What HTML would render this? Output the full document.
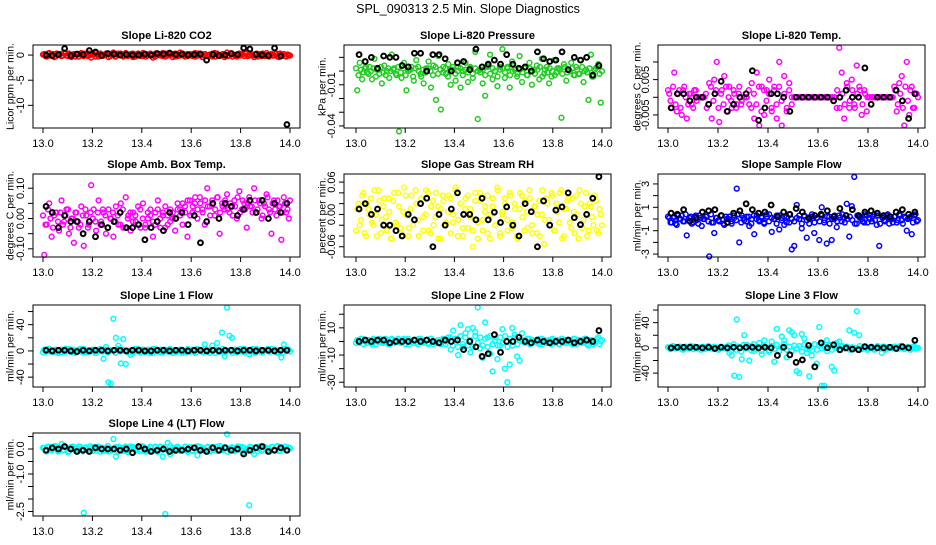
<!DOCTYPE html>
<html><head><meta charset="utf-8"><style>
html,body{margin:0;padding:0;background:#fff}
svg text{font-family:"Liberation Sans",Arial,sans-serif}
</style></head><body>
<svg id="chart" width="936" height="540" viewBox="0 0 936 540" xmlns="http://www.w3.org/2000/svg">
<rect width="936" height="540" fill="#fff"/>
<text x="468" y="13" font-size="12.5" text-anchor="middle">SPL_090313  2.5 Min. Slope Diagnostics</text>
</svg>
<script>
const xTicks=[13.0,13.2,13.4,13.6,13.8,14.0];
const xTickLabels=["13.0","13.2","13.4","13.6","13.8","14.0"];
const panelTitles=["Slope Li-820 CO2","Slope Li-820 Pressure","Slope Li-820 Temp.","Slope Amb. Box Temp.","Slope Gas Stream RH","Slope Sample Flow","Slope Line 1 Flow","Slope Line 2 Flow","Slope Line 3 Flow","Slope Line 4 (LT) Flow"];
const yTitles=["Licor ppm per min.","kPa per min.","degrees C per min.","degrees C per min.","percent per min.","ml/min per min.","ml/min per min.","ml/min per min.","ml/min per min.","ml/min per min."];
const seriesColors=["#ff0000","#22cc22","#ff00ff","#ff00ff","#ffff00","#0000ff","#00ffff","#00ffff","#00ffff","#00ffff"];
const yTickVals=[[0,-5,-10],[0.01,0,-0.01,-0.02,-0.03,-0.04],[0.01,0.005,0,-0.005],[0.1,0.05,0,-0.05,-0.1],[0.06,0.04,0.02,0,-0.02,-0.04,-0.06],[3,2,1,0,-1,-2,-3],[60,40,20,0,-20,-40],[20,10,0,-10,-20,-30],[60,40,20,0,-20,-40],[0.5,0,-0.5,-1,-1.5,-2,-2.5]];
const yTickLabels=[["0","-5","-10"],["","","-0.01","","","-0.04"],["","0.005","","-0.005"],["0.10","","0.00","","-0.10"],["0.06","","","0.00","","","-0.06"],["3","","1","","-1","","-3"],["","40","","0","","-40"],["","10","","-10","","-30"],["","40","","0","","-40"],["","0.0","","-1.0","","","-2.5"]];
const yDomains=[[2,-14.5],[0.019,-0.0415],[0.0148,-0.0087],[0.147,-0.127],[0.075,-0.079],[3.85,-3.25],[70,-55],[26.8,-33.5],[68,-62],[0.64,-2.68]];

const colored0=[0.2,-0.3,0.4,0.1,-0.4,0.3,0,-0.2,0.5,-0.1,0.3,-0.4,0.2,0.1,-0.3,0.4,-0.2,0,0.3,-0.5,0.1,0.4,-0.3,0.2,-0.1,0.3,-0.4,0.2,0.5,-0.2,0,0.3,-0.3,0.4,-0.1,0.2,-0.4,0.1,0.3,-0.2,0.4,-0.3,0.1,0.2,-0.5,0.3,0,-0.1,0.4,-0.3,0.2,0.1,-0.4,0.3,-0.2,0.5,0,-0.3,0.2,0.1,-0.2,0.4,-0.1,0.3,-0.4,0.2,0,0.1,-0.3,0.4,0.3,-0.2,0.1,-0.4,0.5,-0.1,0.2,0,-0.3,0.3,0.1,-0.2,0.4,-0.1,0.2,-0.4,0.3,0,-0.2,0.1,0.4,-0.3,0.2,-0.1,0.3,-0.4,0.1,0.2,-0.3,0];
const band0=[0.1,-0.2,0.3,-0.1,0.2,-0.3,0,0.2,-0.1,0.3,-0.2,0.1,0,-0.3,0.2,0.1,-0.1,0.3,-0.2,0,0.2,-0.3,0.1,0.3,-0.1,0,0.2,-0.2,0.1,-0.3,0.3,0,-0.1,0.2,-0.2,0.1,0.3,-0.3,0,0.1,-0.2,0.2,-0.1,0.3,0,-0.3,0.1,0.2,-0.2,0.3,-0.1,0,0.2,-0.3,0.1,-0.1,0.3,0,-0.2,0.2,0.1,-0.3,0.3,-0.1,0,0.2,-0.2,0.1,0.3,-0.3,0,-0.1,0.2,0.1,-0.2,0.3,-0.3,0,0.1,-0.1,0.2,0.3,-0.2,0,-0.1,0.1,-0.3,0.2,0.3,-0.2,0,0.1,-0.1,0.2,-0.3,0.3,0,-0.2,0.1,-0.1];
const black0=[0,-0.1,0.1,1.3,-0.1,0.2,0.1,0.9,0.6,-0.1,0.3,0.2,0,0.1,0,0,0.2,0,0.3,0.2,0.4,0.1,0.2,0,0.1,0.2,-1.0,0.1,-0.1,0,0.3,0.1,1.4,1.2,0.1,0,-0.1,1.4,-0.2,-13.8];
const colored1=[-0.014,0.006,-0.006,0.002,-0.001,0.003,-0.006,0.009,0.001,-0.002,-0.009,0.004,0,-0.005,0.012,0.002,-0.003,-0.044,-0.005,0.006,-0.014,0.001,0.003,-0.007,0.008,0,-0.004,-0.009,0.002,0.007,-0.012,0.004,-0.021,0.011,-0.028,0.003,-0.002,0.005,-0.01,0.001,-0.007,0.003,-0.012,0,0.006,-0.008,0.002,-0.005,0.014,-0.035,0.001,-0.009,-0.018,0.004,0.012,-0.006,0,-0.011,0.003,0.016,-0.005,0.002,-0.012,0.007,0.001,-0.004,0.011,-0.008,0.002,-0.003,0.006,-0.01,0.001,0.004,-0.006,0.009,-0.002,0.003,-0.009,-0.004,0.008,-0.001,0.002,-0.034,0.005,-0.007,0.001,0.006,-0.003,0.003,-0.002,0.008,-0.008,0.001,-0.021,0.012,-0.004,0.002,0.005,-0.023];
const band1=[0.002,-0.003,0.001,-0.001,0.003,-0.002,0,0.002,-0.004,0.001,0.003,-0.001,-0.003,0.002,0,0.001,-0.002,0.003,-0.001,0.002,-0.003,0,0.001,-0.004,0.002,0.003,-0.002,0.001,-0.001,0.002,0,-0.003,0.003,-0.002,0.001,-0.001,0.002,-0.004,0.001,0.003,-0.002,0,0.002,-0.003,0.001,-0.001,0.003,-0.002,0.002,0,-0.001,0.001,-0.003,0.003,-0.002,0.002,0,-0.004,0.001,0.002,-0.001,0.003,-0.003,0,0.002,-0.002,0.001,-0.001,0.003,-0.003,0.002,0,-0.002,0.001,0.003,-0.004,0.001,-0.001,0.002,0,-0.003,0.002,0.001,-0.002,0.003,-0.001,0,0.002,-0.003,0.001,-0.002,0.003,0,-0.001,0.002,-0.004,0.001,0.003,-0.002,0];
const black1=[0.012,0.007,0.010,0.002,0.011,0.010,0.010,0.004,0.003,0.013,0.013,0.0,0.012,0.012,0.009,0.0,0.006,0.007,0.001,0.016,0.003,0.005,0.008,0.005,0.012,0.005,0.002,0.003,0.0,0.014,0.009,0.007,0.008,0.014,0.001,0.010,0.008,0.010,-0.003,0.004];
const colored2=[0.001,-0.003,0.007,-0.004,0.002,-0.005,0.003,-0.006,0.001,-0.002,0.002,-0.001,0,0,0,-0.003,0.004,-0.006,0.005,0.01,-0.007,0.002,0.006,-0.004,0.003,-0.003,0.001,-0.002,0.003,-0.001,0,0,-0.002,0.004,-0.006,0.007,-0.008,0.003,-0.005,0.002,0.005,-0.004,0.003,-0.006,0.01,-0.008,0.006,-0.003,0.004,-0.002,0,0,0,0,0,0,0,0,0,0,0,0,0,0,0,0,0,-0.003,0.014,0.007,-0.006,0.004,-0.003,0.005,-0.002,0.009,0.003,-0.005,0.002,-0.004,0,0,0,0,0,0,0,0,0,0,0.003,-0.004,0.004,0.006,-0.008,0.01,-0.005,0.003,-0.003,0.001];
const band2=[0.002,-0.001,0.003,-0.002,0.001,-0.003,0.002,0,-0.002,0.001,-0.003,0.002,0,0,0,0.001,-0.002,0.003,-0.001,0.002,-0.003,0.001,-0.002,0.003,0,-0.001,0.002,-0.003,0.001,-0.002,0,0,0.002,-0.003,0.001,-0.002,0.003,-0.004,0.002,-0.001,0.001,-0.003,0.002,-0.002,0.003,-0.001,0.001,-0.004,0.002,0,0,0,0,0,0,0,0,0,0,0,0,0,0,0,0,0,0,0.002,-0.003,0.001,-0.002,0.003,-0.001,0.002,-0.003,0.001,0.002,-0.002,0.001,0,0,0,0,0,0,0,0,0,0,0,0.002,-0.002,0.001,-0.003,0.003,-0.001,0.002,-0.003,0.001,0];
const black2=[-0.003,0.001,0.001,-0.001,0,0,-0.002,0.001,0.0045,-0.004,-0.002,0,0.001,0.0075,-0.0065,-0.003,0.001,0.001,0,-0.004,0,0,0,0,0,0,-0.001,0,0.002,0,0,0.0083,-0.002,0,0,0,0.002,-0.001,-0.006,0.001];
const colored3=[-0.12,-0.02,0.05,-0.06,0.01,0.02,-0.04,0.06,-0.01,0.03,-0.05,0.0,-0.08,0.02,-0.03,0.04,-0.09,0.01,-0.02,0.11,0.03,-0.04,0.06,-0.01,0.02,-0.05,0.03,0.0,-0.06,0.04,-0.02,0.05,-0.03,0.07,0.01,-0.04,0.02,-0.01,0.04,-0.03,0.05,-0.02,0.0,0.03,-0.06,0.02,0.06,-0.03,0.01,0.04,-0.02,0.03,0.0,-0.04,0.05,0.01,-0.02,0.04,-0.06,0.06,0.02,0.05,0.0,0.07,0.03,-0.02,0.1,0.04,0.06,0.01,0.07,-0.05,0.05,0.03,0.08,0.02,0.04,0.06,0.0,0.09,0.03,0.05,-0.03,0.07,0.04,0.1,0.02,0.06,0.0,0.05,0.08,0.03,-0.05,0.06,0.01,0.04,-0.07,0.07,0.02,0.0];
const band3=[0.01,-0.02,0.03,0,-0.03,0.02,-0.01,0.02,-0.02,0.01,0.03,-0.03,0,0.02,-0.01,-0.02,0.01,0.03,-0.03,0.02,0,-0.01,0.02,-0.02,0.03,0.01,-0.03,0,0.02,-0.01,0.01,-0.02,0.03,-0.03,0,0.02,-0.01,0.01,-0.02,0.03,0,-0.03,0.02,0.01,-0.01,-0.02,0.03,0,0.02,-0.03,0.01,-0.01,0.02,0,0.03,0.03,0.05,0.02,0.06,0.01,0.04,0.07,0.03,0.05,0.02,0.06,0.04,0.01,0.05,0.03,0.07,0.02,0.04,0.06,0.03,0.05,0.01,0.04,0.07,0.02,0.06,0.03,0.05,0.04,0.02,0.06,0.03,0.05,0.01,0.04,0.07,0.02,0.05,0.03,0.06,0.04,0.02,0.05,0.03,0.06];
const black3=[0.04,0.02,-0.03,0.01,-0.01,-0.01,-0.05,-0.01,-0.06,-0.02,-0.03,-0.01,0.02,-0.03,-0.03,-0.02,-0.07,-0.03,-0.01,-0.04,0.02,0.0,0.02,-0.02,0.01,-0.08,-0.01,0.05,0.0,0.05,0.04,0.01,0.03,0.06,0.02,0.06,0.0,0.05,0.02,0.05];
const colored4=[0.01,-0.02,0.035,-0.035,0.02,0.0,-0.015,0.045,-0.04,0.025,-0.01,0.03,-0.03,0.005,-0.045,0.04,-0.02,0.015,-0.035,0.05,0.0,-0.025,0.035,-0.01,0.02,-0.04,0.03,-0.005,0.045,-0.03,0.015,-0.02,0.04,-0.045,0.01,0.025,-0.015,0.035,-0.035,0.0,0.05,-0.01,0.02,-0.04,0.03,-0.025,0.01,-0.06,0.04,-0.015,0.025,-0.03,0.005,0.035,-0.045,0.015,-0.02,0.05,-0.035,0.0,0.03,-0.01,0.04,-0.025,0.02,-0.04,0.01,0.035,-0.03,0.005,0.045,-0.02,0.015,-0.035,0.025,0.0,-0.055,0.03,-0.01,0.04,-0.03,0.02,-0.015,0.045,-0.04,0.01,0.03,-0.025,0.005,0.035,-0.045,0.02,-0.01,0.04,-0.03,0.015,-0.02,0.025,-0.035,0.0];
const band4=[-0.03,0.02,-0.01,0.04,-0.04,0.01,0.03,-0.02,0.0,0.045,-0.035,0.015,-0.005,0.03,-0.045,0.025,-0.015,0.04,-0.025,0.005,0.035,-0.04,0.01,-0.02,0.045,-0.01,0.02,-0.03,0.0,0.04,-0.035,0.025,-0.005,0.015,-0.045,0.035,-0.02,0.005,0.03,-0.015,0.045,-0.04,0.02,-0.025,0.01,0.035,-0.005,-0.03,0.025,-0.045,0.04,-0.01,0.015,-0.035,0.0,0.03,-0.02,0.045,-0.04,0.005,0.02,-0.03,0.035,-0.015,0.01,-0.045,0.04,-0.005,0.025,-0.025,0.03,-0.035,0.015,0.0,-0.04,0.045,-0.01,0.02,-0.02,0.035,-0.03,0.005,0.04,-0.045,0.01,0.025,-0.015,0.03,-0.035,0.0,0.045,-0.025,0.015,-0.04,0.02,-0.005,0.035,-0.03,0.01,-0.02];
const black4=[0.01,0.02,0.0,0.01,-0.02,-0.02,-0.03,-0.04,0.0,-0.01,0.02,0.03,-0.06,0.0,-0.02,0.01,0.04,0.0,0.0,-0.01,0.03,-0.01,0.004,-0.015,0.014,-0.02,-0.04,0.02,0.005,-0.06,0.025,-0.02,0.008,0.014,0.04,-0.006,-0.019,0.0,0.03,0.07];
const colored5=[0.1,-0.3,0.2,-0.5,0.0,0.3,-0.2,-1.4,0.1,-0.4,0.2,-0.1,0.3,-0.6,0.0,0.2,-3.2,-0.3,-1.2,0.1,-0.2,0.3,-0.5,0.0,0.2,-0.4,0.1,2.6,-2.0,0.3,-0.1,0.2,-0.6,0.0,-1.3,0.3,-0.2,0.1,-0.4,0.2,0.4,-1.1,0.0,0.3,-0.9,0.1,-0.5,0.2,-0.3,-2.6,-2.3,1.2,0.0,-0.8,0.3,-1.6,-0.4,0.2,-1.2,0.1,-1.8,1.0,-0.3,-2.1,0.2,-1.8,0.0,-0.7,0.3,-0.2,0.1,1.3,-1.5,1.1,3.6,-0.4,0.2,0.0,-0.3,0.3,0.1,-0.2,0.4,-0.5,-2.3,0.2,-0.1,0.3,-0.4,0.0,0.2,-0.3,0.4,-0.1,0.2,-1.0,0.1,-1.3,0.3,-0.2];
const band5=[0.2,-0.3,0.1,-0.4,0.3,0,-0.2,0.4,-0.1,0.2,-0.3,0.3,-0.4,0.1,0,0.2,-0.2,0.4,-0.3,0.1,-0.1,0.3,-0.4,0.2,0,-0.2,0.3,-0.1,0.4,-0.3,0.1,-0.2,0.2,-0.4,0.3,0,-0.1,0.2,-0.3,0.4,-0.2,0.1,0,-0.4,0.3,-0.1,0.2,-0.3,0.4,0,-0.2,0.1,0.3,-0.4,0.2,-0.1,0,0.4,-0.3,0.1,-0.2,0.3,-0.1,0.2,-0.4,0,0.3,-0.2,0.1,0.4,-0.3,0,0.2,-0.1,-0.4,0.3,0.1,-0.2,0.4,-0.3,0,0.2,-0.1,0.3,-0.4,0.1,-0.2,0.4,0,-0.3,0.2,-0.1,0.3,-0.4,0.1,0,0.2,-0.3,0.4,-0.1];
const black5=[0.5,0.4,0.8,-0.2,0.1,0.6,0.7,0.8,0.3,-0.3,0.5,0.7,1.3,0.8,0.5,0.6,1.2,0.2,0.6,0.4,0.9,0.6,0.1,0.3,0.4,0.7,0.2,0.9,0.3,0.8,0.3,0.6,0.7,0.5,0.3,0.2,0.6,0.8,0.4,0.6];
const colored6=[2,-1,3,0,-2,1,-3,2,0,-1,3,-2,1,0,2,-1,3,-2,0,1,2,-3,1,0,-12,6,-48,-50,49,20,8,-19,18,-20,-1,-6,2,0,3,-2,1,-1,2,0,-3,3,1,-2,0,2,-1,3,0,-2,1,2,-3,0,1,-1,2,-2,3,0,-1,10,1,-3,8,2,12,-1,28,-8,66,23,20,0,-2,1,-1,3,0,-5,2,-1,3,1,-2,0,2,-1,3,0,-2,1,-10,10,0,2];
const band6=[-2,1,3,-1,0,2,-3,1,-2,3,0,-1,2,-3,1,3,-2,0,1,-1,2,-3,0,3,-1,2,-2,1,0,-3,3,-1,2,0,-2,1,-3,3,-1,0,2,-2,1,-3,3,0,-1,2,-2,1,0,3,-3,1,-1,2,0,-2,3,-1,1,-3,2,0,-2,3,-1,1,0,-3,2,-1,3,-2,0,1,-3,2,-1,3,0,-2,1,-1,3,-3,2,0,-2,1,3,-1,0,2,-3,1,-2,3,0,-1];
const black6=[1,0,1,1,0,-1,1,0,1,1,0,1,1,0,1,1,0,0,1,1,0,1,1,0,1,1,0,1,0,1,1,0,1,1,0,1,1,0,1,1];
const colored7=[1,-1,2,0,-1,1,-2,1,0,2,-1,1,0,-2,2,-1,1,0,-1,2,1,-2,0,1,-1,2,0,-1,1,-2,2,0,-1,1,-2,1,0,3,-6,8,2,-10,12,-4,6,9,-8,10,7,25,-5,-12,14,3,-9,-22,0,-13,-3,9,-20,-30,-17,10,5,-11,-14,6,1,0,2,-1,0,1,-2,2,0,-1,1,-2,1,0,-2,2,-1,1,0,-1,2,-2,1,-1,0,2,-3,1,-2,0,3,0];
const band7=[-1,1,2,-2,0,1,-1,2,-2,1,0,-1,2,-2,1,-1,0,2,-1,1,-2,2,0,-1,1,-2,2,0,1,-1,2,-2,0,1,-1,2,-2,1,3,-3,2,-4,4,-2,3,-3,1,-4,4,-1,3,-3,2,-4,4,-2,1,-3,3,-1,4,-4,2,-3,3,-2,1,0,-1,2,-2,1,0,-1,2,-2,1,-1,0,2,-1,1,-2,2,0,-1,1,-2,2,0,1,-1,2,-2,0,1,-1,2,-2,1];
const black7=[0,1,0,1,1,-1,0,0,0,1,0,1,0,-1,1,0,1,-6,0,-4,-11,-9,5,-8,0,0,3,0,-1,1,0,-1,0,0,1,-1,0,1,0,8];
const colored8=[0,-1,1,0,2,-2,1,0,-1,1,2,-1,0,1,-2,1,0,-1,2,0,-1,1,0,2,-8,-12,-44,45,-46,-18,20,5,-20,3,-5,2,8,-10,12,1,-4,10,-22,30,-5,18,12,-15,28,25,20,-37,-40,22,15,-8,-45,-12,-30,-25,33,-60,-60,12,5,-30,-36,8,10,2,0,1,28,-1,24,58,20,-2,1,0,-1,2,-3,1,0,-8,2,-1,1,0,2,-1,0,1,-2,1,0,-1,2,0];
const band8=[1,-2,3,-1,0,2,-3,2,-1,3,-2,0,1,-3,2,-1,3,0,-2,1,-3,2,0,-1,4,-5,6,-3,2,-6,5,-1,3,-4,6,-2,1,-5,4,0,-6,3,-2,5,-4,1,6,-3,2,-5,4,-1,3,-6,5,-2,0,-4,6,-3,5,-1,2,-5,4,-3,1,0,-2,3,-1,2,-3,1,0,-2,3,-1,2,-3,1,0,-2,3,-1,2,-3,1,0,-1,2,-2,3,-1,0,1,-3,2,-1,0];
const black8=[0,1,1,1,1,0,1,-1,1,0,1,0,1,1,0,1,0,-12,1,-11,-23,-19,4,-30,8,0,5,-3,0,-2,-3,2,1,0,0,1,-1,2,0,12];
const colored9=[0.05,-0.1,0.08,-0.05,0.1,0.0,-0.08,0.2,-0.05,0.06,-0.1,0.08,0.0,-0.06,0.1,-0.04,-2.55,0.07,-0.09,0.03,0.08,-0.06,0.1,0.02,-0.07,0.05,-0.1,0.0,0.4,-0.3,0.1,0.05,-0.08,0.06,-0.05,0.1,0.0,-0.06,0.08,-0.03,0.06,-0.1,0.03,0.08,-0.05,0.1,-0.02,0.07,-0.3,-2.6,0.25,-0.2,0.06,-0.08,0.1,0.0,-0.06,0.08,-0.04,0.07,-0.09,0.05,-0.25,0.1,0.0,-0.07,0.06,-0.03,0.08,-0.05,0.1,-0.06,0.0,0.08,0.6,-0.04,0.07,-0.08,0.05,0.1,-0.05,0.03,-0.1,-2.25,0.06,-0.2,0.08,0.0,-0.07,0.1,0.04,-0.06,0.08,-0.03,0.1,-0.08,0.05,0.0,-0.05,0.06];
const band9=[0.05,-0.08,0.1,-0.03,0.0,0.12,-0.1,0.06,-0.05,0.08,-0.12,0.03,0.1,-0.06,0.0,0.09,-0.09,0.04,-0.02,0.11,-0.07,0.02,0.08,-0.11,0.05,-0.04,0.12,-0.08,0.0,0.07,-0.1,0.06,-0.03,0.1,-0.12,0.04,0.08,-0.05,0.02,-0.09,0.11,-0.06,0.0,0.09,-0.08,0.05,-0.11,0.1,-0.02,0.07,-0.04,0.12,-0.1,0.03,0.06,-0.07,0.0,0.1,-0.12,0.08,-0.05,0.02,0.11,-0.09,0.04,-0.03,0.09,-0.1,0.06,0.0,-0.08,0.12,-0.04,0.07,-0.11,0.03,0.05,-0.06,0.1,-0.02,0.08,-0.12,0.01,0.09,-0.07,0.04,-0.09,0.11,-0.03,0.06,0.0,-0.1,0.07,-0.05,0.12,-0.08,0.02,0.1,-0.06,0.03];
const black9=[-0.05,0.05,0.0,0.1,0.0,-0.1,-0.05,-0.1,0.05,0.0,0.0,0.0,-0.05,0.0,-0.15,0.1,0.0,-0.1,-0.05,0.0,-0.1,-0.05,-0.05,0.0,0.05,-0.05,-0.1,0.05,-0.05,0.05,-0.05,0.0,-0.2,-0.05,0.05,0.1,-0.1,-0.05,0.05,-0.05];
const coloredSeries=[colored0,colored1,colored2,colored3,colored4,colored5,colored6,colored7,colored8,colored9];
const bandSeries=[band0,band1,band2,band3,band4,band5,band6,band7,band8,band9];
const blackSeries=[black0,black1,black2,black3,black4,black5,black6,black7,black8,black9];

const NS="http://www.w3.org/2000/svg";
const svg=document.getElementById('chart');
const cols=[{x0:33,x1:300,a:43,b:290,yl:10},{x0:344,x1:611,a:356,b:602,yl:322},{x0:658,x1:925,a:668,b:918,yl:637}];
const rows=[{y0:45,y1:128},{y0:174,y1:257},{y0:305,y1:387},{y0:433,y1:516}];
function mk(tag,attrs,parent){const e=document.createElementNS(NS,tag);for(const k in attrs)e.setAttribute(k,attrs[k]);(parent||svg).appendChild(e);return e;}

for(let p=0;p<10;p++){
  const c=cols[p%3], r=rows[Math.floor(p/3)];
  const g=mk('g',{});
  
  
  const xs=v=>c.a+(v-13)*(c.b-c.a);
  const [dTop,dBot]=yDomains[p];
  const ys=v=>r.y0+(dTop-v)/(dTop-dBot)*(r.y1-r.y0);
  const t=mk('text',{x:(c.x0+c.x1)/2,y:r.y0-6,'font-size':11,'font-weight':'bold','text-anchor':'middle'},g);
  t.textContent=panelTitles[p];
  
  
  const pts=mk('g',{fill:'none','stroke-width':1.5},g);
  
  
  const bd=bandSeries[p];
  bd.forEach((v,i)=>{
    const ci=mk('circle',{cx:xs(13+i/(bd.length-1)),cy:ys(v),r:2.4,stroke:seriesColors[p]},pts);
    
    
  });
  const cs=coloredSeries[p];
  cs.forEach((v,i)=>{
    const ci=mk('circle',{cx:xs(13+(i+0.5)/cs.length),cy:ys(v),r:2.4,stroke:seriesColors[p]},pts);
    
    
  });
  const bs=blackSeries[p];
  bs.forEach((v,i)=>{
    const ci=mk('circle',{cx:xs(13+(i+0.5)/bs.length),cy:ys(v),r:2.4,stroke:'#000','stroke-width':2},pts);
    
    
  });
  const box=mk('rect',{x:c.x0,y:r.y0,width:c.x1-c.x0,height:r.y1-r.y0,fill:'none',stroke:'#000','stroke-width':1},g);
  
  
  const xa=mk('g',{},g);
  
  
  mk('line',{x1:xs(xTicks[0]),x2:xs(xTicks[xTicks.length-1]),y1:r.y1,y2:r.y1,stroke:'#000'},xa);
  xTicks.forEach((v,i)=>{
    mk('line',{x1:xs(v),x2:xs(v),y1:r.y1,y2:r.y1+5,stroke:'#000'},xa);
    const tl=mk('text',{x:xs(v),y:r.y1+19,'font-size':11,'text-anchor':'middle'},xa);
    tl.textContent=xTickLabels[i];
    
    
  });
  const ya=mk('g',{},g);
  
  
  const tv=yTickVals[p];
  mk('line',{x1:c.x0,x2:c.x0,y1:ys(tv[0]),y2:ys(tv[tv.length-1]),stroke:'#000'},ya);
  tv.forEach((v,i)=>{
    mk('line',{x1:c.x0-5,x2:c.x0,y1:ys(v),y2:ys(v),stroke:'#000'},ya);
    if(yTickLabels[p][i]){
      const tx=c.x0-9, ty=ys(v);
      const tl=mk('text',{x:tx,y:ty,'font-size':11,'text-anchor':'middle',transform:`rotate(-90 ${tx} ${ty})`},ya);
      tl.textContent=yTickLabels[p][i];
      
      
    }
  });
  const ym=(r.y0+r.y1)/2;
  const yt=mk('text',{x:c.yl,y:ym,'font-size':10.5,'text-anchor':'middle',transform:`rotate(-90 ${c.yl} ${ym})`,dy:'0.35em'},g);
  yt.textContent=yTitles[p];
  
  
}
</script>
</body></html>
